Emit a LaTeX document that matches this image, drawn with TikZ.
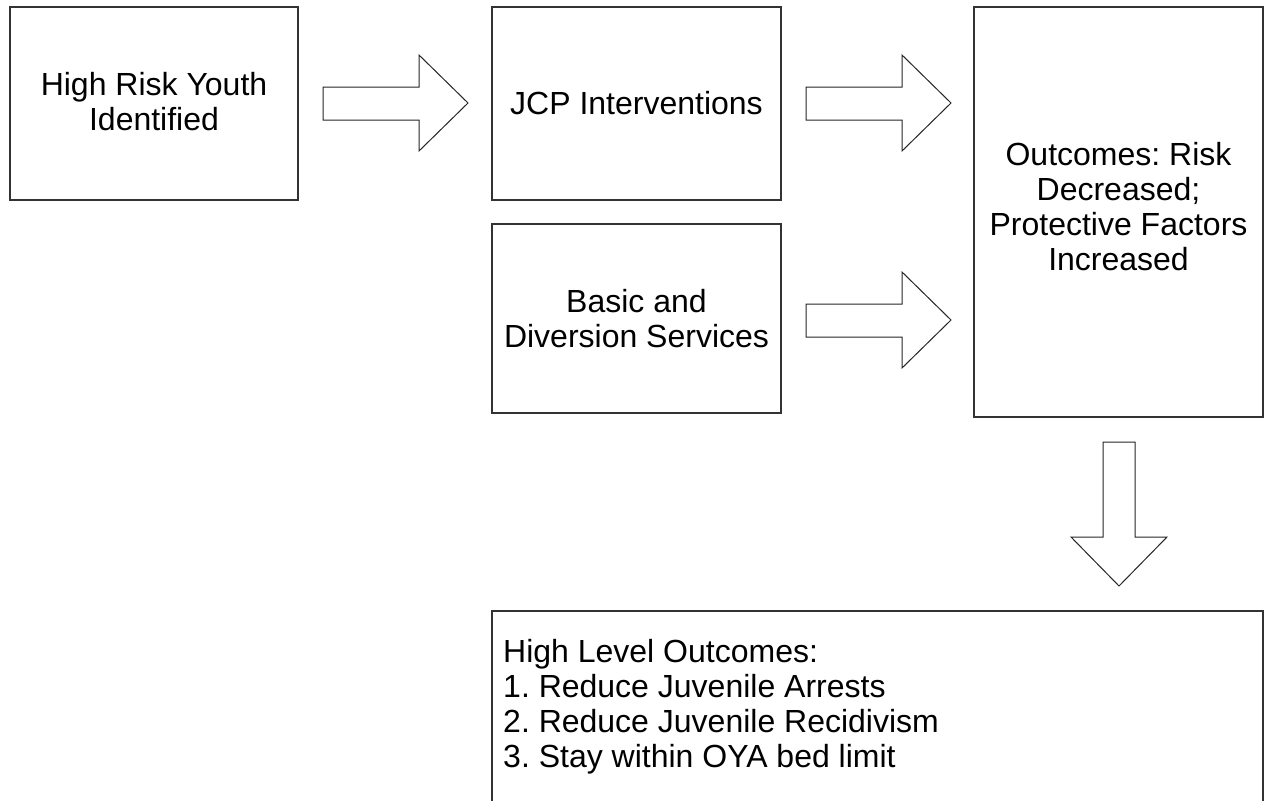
\documentclass[tikz,border=0pt]{standalone}
\usepackage{fontspec}
\setmainfont{Liberation Sans}
\frenchspacing
\begin{document}
\begin{tikzpicture}[x=1pt,y=-1pt,
  boxstyle/.style={draw=black!80,line width=1.1pt,fill=white},
  txt/.style={font=\fontsize{32}{35}\selectfont,align=center,inner sep=0pt},
  blockarrow/.style={draw=black!85,line width=1pt,fill=white,line join=miter}]
\useasboundingbox (0,0) rectangle (1265,800);
% boxes
\draw[boxstyle] (10,7) rectangle (298,200);
\coordinate (b1) at (154,102);
\draw[boxstyle] (492,7) rectangle (781,200);
\coordinate (jcp) at (636.5,103.5);
\draw[boxstyle] (492,224) rectangle (781,413);
\coordinate (bas) at (636.5,318.5);
\draw[boxstyle] (974,7) rectangle (1263,417);
\coordinate (out) at (1118.5,207);
\draw[boxstyle] (492,611) rectangle (1263,830);
% texts
\node[txt] (t1) at (b1) {High Risk Youth\\Identified};
\node[txt] (t2) at (jcp) {JCP Interventions};
\node[txt] (t3) at (bas) {Basic and\\Diversion Services};
\node[txt] (t4) at (out) {Outcomes: Risk\\Decreased;\\Protective Factors\\Increased};
\node[txt,align=left,anchor=north west] (t5) at (503,639)
  {High Level Outcomes:\\1. Reduce Juvenile Arrests\\2. Reduce Juvenile Recidivism\\3. Stay within OYA bed limit};
% block arrows
\draw[blockarrow] (323,87) -- (419,87) -- (419,55) -- (468,103) -- (419,151) -- (419,120) -- (323,120) -- cycle;
\draw[blockarrow] (806,87) -- (902,87) -- (902,55) -- (951,103) -- (902,151) -- (902,120) -- (806,120) -- cycle;
\draw[blockarrow] (806,304) -- (902,304) -- (902,272) -- (951,320) -- (902,368) -- (902,337) -- (806,337) -- cycle;
\draw[blockarrow] (1103,442) -- (1135,442) -- (1135,537) -- (1167,537) -- (1119,586) -- (1071,537) -- (1103,537) -- cycle;
\end{tikzpicture}
\end{document}
